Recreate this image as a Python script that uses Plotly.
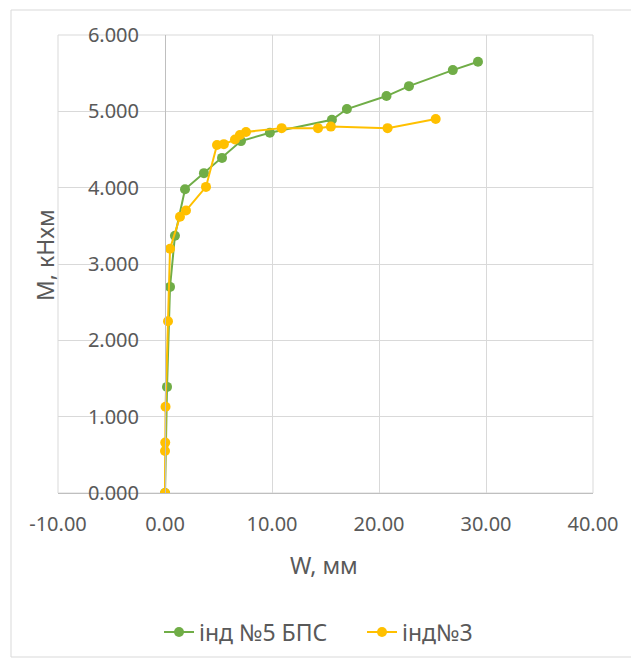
import plotly.graph_objects as go

# Series: інд №5 БПС (green)
w_green = [0.0, 0.19, 0.47, 0.93, 1.87, 3.64, 5.33, 7.1, 9.8, 15.6, 17.0, 20.7, 22.8, 26.9, 29.25]
m_green = [0.0, 1.39, 2.70, 3.37, 3.98, 4.19, 4.39, 4.61, 4.72, 4.89, 5.03, 5.20, 5.33, 5.54, 5.65]

# Series: інд№3 (yellow)
w_yellow = [0.0, 0.0, 0.02, 0.05, 0.28, 0.47, 1.4, 1.96, 3.83, 4.86, 5.5, 6.54, 7.0, 7.57, 10.9, 14.3, 15.5, 20.8, 25.3]
m_yellow = [0.0, 0.55, 0.66, 1.13, 2.25, 3.20, 3.62, 3.70, 4.01, 4.56, 4.57, 4.63, 4.69, 4.73, 4.78, 4.78, 4.80, 4.78, 4.90]

series_names = ["інд №5 БПС", "інд№3"]
x_ticks = [-10, 0, 10, 20, 30, 40]
x_tick_labels = ["-10.00", "0.00", "10.00", "20.00", "30.00", "40.00"]
y_ticks = [0, 1, 2, 3, 4, 5, 6]
y_tick_labels = ["0.000", "1.000", "2.000", "3.000", "4.000", "5.000", "6.000"]

GREEN = "#70AD47"
YELLOW = "#FFC000"
TXT = "#595959"
FONT = "Noto Sans"

OFF = 8  # page body margin offset
W, H = 639, 660
# target plot area in screen pixels
PL, PR, PT, PB = 58, 593, 35, 493
L, T = PL - OFF, PT - OFF
R, B = W - (PR - OFF), H - (PB - OFF)
PW, PH = PR - PL, PB - PT


def px_x(p):
    return (p - PL) / PW


def px_y(p):
    return (PB - p) / PH


fig = go.Figure()
fig.add_trace(go.Scatter(x=w_green, y=m_green, name=series_names[0], mode="lines+markers",
                         line=dict(color=GREEN, width=2), marker=dict(color=GREEN, size=10)))
fig.add_trace(go.Scatter(x=w_yellow, y=m_yellow, name=series_names[1], mode="lines+markers",
                         line=dict(color=YELLOW, width=2), marker=dict(color=YELLOW, size=10)))

fig.update_layout(
    width=W, height=H,
    margin=dict(l=L, r=R, t=T, b=B, pad=0),
    paper_bgcolor="white", plot_bgcolor="white",
    font=dict(family=FONT, size=20, color=TXT),
    showlegend=True,
    legend=dict(orientation="h", x=px_x(159), y=px_y(632), xanchor="left", yanchor="middle",
                font=dict(size=23, color=TXT), entrywidth=158, entrywidthmode="pixels"),
    xaxis=dict(range=[-10, 40], tickvals=x_ticks, ticktext=x_tick_labels,
               showgrid=True, gridcolor="#D9D9D9", gridwidth=1,
               zeroline=False, showline=True, linecolor="#BFBFBF", linewidth=1,
               mirror=False, ticks="", ticklabelstandoff=13),
    yaxis=dict(range=[0, 6], tickvals=y_ticks, ticktext=y_tick_labels,
               anchor="free", position=px_x(165),
               showgrid=True, gridcolor="#D9D9D9", gridwidth=1,
               zeroline=False, showline=True, linecolor="#BFBFBF", linewidth=1,
               ticks="", ticklabelstandoff=22),
)

# top and right frame of plot area (gridline colour)
fig.add_shape(type="rect", xref="paper", yref="paper", x0=0, x1=1, y0=0, y1=1,
              line=dict(color="#D9D9D9", width=1), layer="below")
# outer chart border
fig.add_shape(type="rect", xref="paper", yref="paper",
              x0=px_x(11), x1=px_x(637), y0=px_y(657), y1=px_y(10),
              line=dict(color="#D9D9D9", width=1))

fig.add_annotation(text="W, мм", xref="paper", yref="paper", x=px_x(324), y=px_y(565),
                   showarrow=False, font=dict(size=23, color=TXT),
                   xanchor="center", yanchor="middle")
fig.add_annotation(text="M, кНхм", xref="paper", yref="paper", x=px_x(45), y=px_y(255),
                   textangle=-90, showarrow=False, font=dict(size=23, color=TXT),
                   xanchor="center", yanchor="middle")

fig.write_html("out.html")
